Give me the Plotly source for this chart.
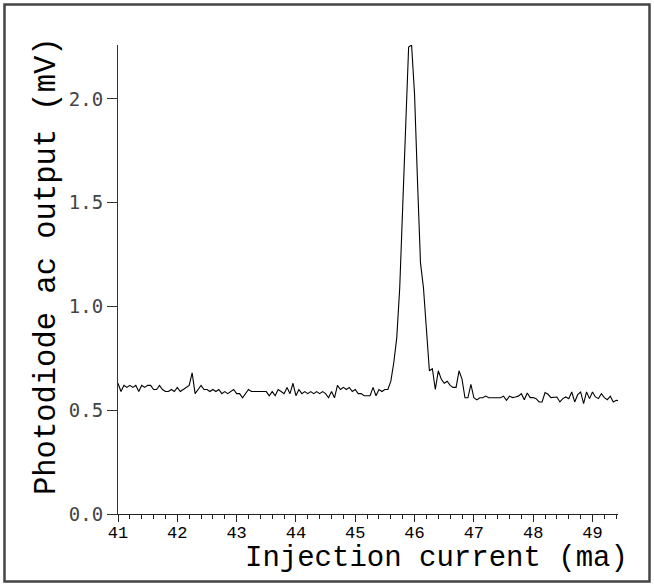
import numpy as np
import plotly.graph_objects as go

# ---- data ----
x_start = 41.0
x_step = 0.05

baseline_left = [
    0.63, 0.59, 0.62, 0.61, 0.62, 0.61, 0.62, 0.59, 0.62, 0.61,
    0.62, 0.62, 0.60, 0.60, 0.62, 0.60, 0.59, 0.59, 0.60, 0.59,
    0.61, 0.59, 0.60, 0.61, 0.62, 0.68, 0.58, 0.60, 0.62, 0.60,
    0.60, 0.59, 0.60, 0.59, 0.60, 0.58, 0.59, 0.58, 0.59, 0.60,
    0.58, 0.58, 0.56, 0.58, 0.60, 0.59, 0.59, 0.59, 0.59, 0.59,
    0.59, 0.57, 0.59, 0.57, 0.60, 0.59, 0.58, 0.61, 0.58, 0.63,
    0.57, 0.60, 0.58, 0.59, 0.58, 0.59, 0.58, 0.59, 0.58, 0.59,
    0.58, 0.56, 0.59, 0.56, 0.62, 0.60, 0.61, 0.60, 0.61, 0.59,
    0.60, 0.58, 0.58, 0.57, 0.57, 0.57, 0.61, 0.57, 0.60, 0.59,
    0.60, 0.60,
]
peak = [
    0.64, 0.73, 0.85, 1.09, 1.48, 1.88, 2.25, 2.26, 2.02, 1.60,
    1.21, 1.09, 0.88, 0.69, 0.70, 0.60, 0.69, 0.65, 0.63, 0.64,
    0.62, 0.61, 0.61, 0.69, 0.65, 0.56, 0.56, 0.625, 0.56, 0.55,
    0.56,
]
baseline_right = [
    0.56, 0.568, 0.56, 0.56, 0.56, 0.56, 0.56, 0.568, 0.548, 0.568,
    0.561, 0.564, 0.568, 0.58, 0.551, 0.583, 0.561, 0.561, 0.556, 0.54,
    0.54, 0.585, 0.577, 0.561, 0.561, 0.564, 0.54, 0.556, 0.564, 0.556,
    0.588, 0.54, 0.575, 0.588, 0.532, 0.588, 0.556, 0.588, 0.564, 0.556,
    0.58, 0.561, 0.551, 0.568, 0.54, 0.548, 0.545, 0.564,
]
output_mv = baseline_left + peak + baseline_right
current_ma = np.round(x_start + x_step * np.arange(len(output_mv)), 3)

x_ticks = [41, 42, 43, 44, 45, 46, 47, 48, 49]
y_ticks = [0.0, 0.5, 1.0, 1.5, 2.0]
x_title = "Injection current (ma)"
y_title = "Photodiode ac output (mV)"

MONO_SERIF = "Courier New, Courier, FreeMono, Nimbus Mono PS, Liberation Mono, monospace"

# ---- layout ----
W, H = 654, 586
ML, MR, MT, MB = 118, 36, 45, 72
PW = W - ML - MR
PH = H - MT - MB


def px_to_paper_x(px):
    return (px - ML) / PW


def px_to_paper_y(py):
    return (H - MB - py) / PH


fig = go.Figure()
fig.add_trace(go.Scatter(
    x=current_ma, y=output_mv, mode="lines",
    line=dict(color="black", width=1.1),
    hoverinfo="skip", showlegend=False,
))

fig.update_layout(
    width=W, height=H,
    margin=dict(l=ML, r=MR, t=MT, b=MB, pad=0),
    paper_bgcolor="white", plot_bgcolor="white",
    showlegend=False,
)

fig.update_xaxes(
    range=[41, 49.43], showgrid=False, zeroline=False,
    showline=True, linecolor="#222", linewidth=1.2,
    ticks="outside", ticklen=7, tickwidth=1, tickcolor="#222",
    tickvals=x_ticks, ticktext=[str(v) for v in x_ticks],
    tickfont=dict(family=MONO_SERIF, size=17, color="black"),
    ticklabelstandoff=-5,
    minor=dict(dtick=0.2, tick0=41, ticks="outside", ticklen=4,
               tickwidth=1, tickcolor="#222", showgrid=False),
)
fig.update_yaxes(
    range=[0, 2.26], showgrid=False, zeroline=False,
    showline=True, linecolor="#333", linewidth=1.2,
    ticks="outside", ticklen=10, tickwidth=1, tickcolor="#333",
    tickvals=y_ticks, ticktext=[f"{v:.1f}" for v in y_ticks],
    tickfont=dict(family="DejaVu Sans Mono", size=19, color="#444"),
)

# outer frame
fig.add_shape(
    type="rect", xref="paper", yref="paper",
    x0=px_to_paper_x(4.5), x1=px_to_paper_x(649.5),
    y0=px_to_paper_y(581.5), y1=px_to_paper_y(4.5),
    line=dict(color="#444", width=2.5), fillcolor="rgba(0,0,0,0)",
    layer="above",
)

fig.add_annotation(
    text=x_title, xref="paper", yref="paper",
    x=px_to_paper_x(436), y=px_to_paper_y(558),
    xanchor="center", yanchor="middle", showarrow=False,
    font=dict(family=MONO_SERIF, size=29, color="black"),
)
fig.add_annotation(
    text=y_title, xref="paper", yref="paper",
    x=px_to_paper_x(47), y=px_to_paper_y(266),
    xanchor="center", yanchor="middle", showarrow=False, textangle=-90,
    font=dict(family=MONO_SERIF, size=30.5, color="black"),
)

fig.write_html(
    "out.html",
    config={"displayModeBar": False},
    post_script="document.body.style.margin='0';document.body.style.overflow='hidden';",
)
